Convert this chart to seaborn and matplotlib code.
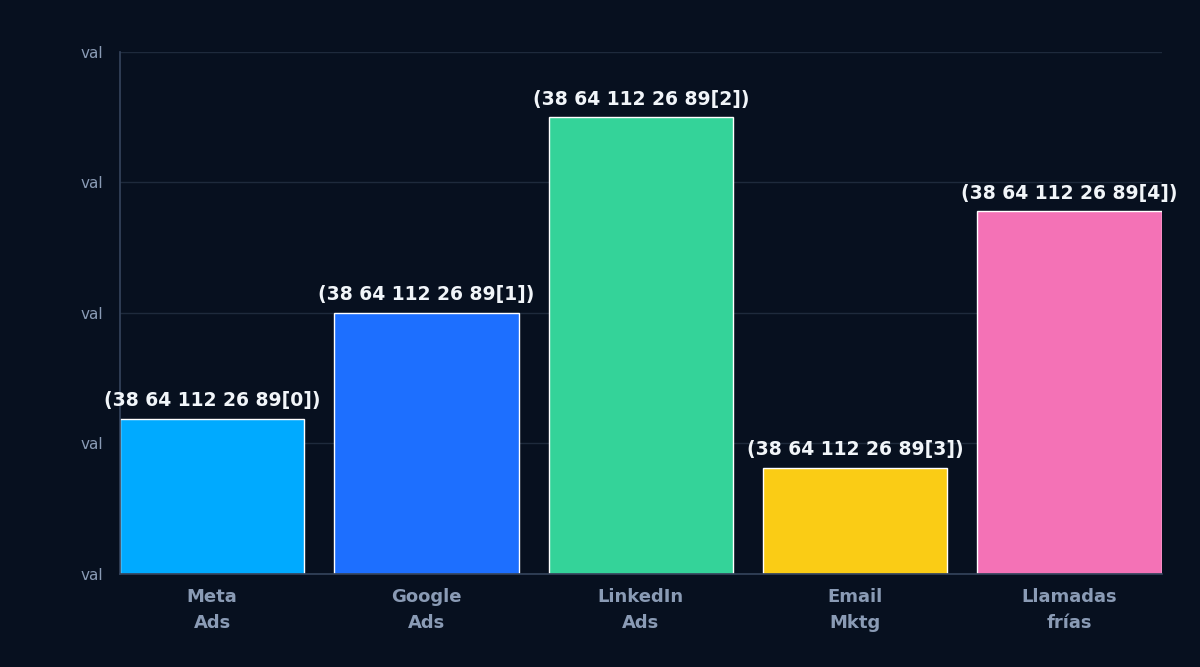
import matplotlib
matplotlib.use("Agg")
import matplotlib.pyplot as plt
import seaborn as sns
import pandas as pd

categories = ["Meta\nAds", "Google\nAds", "LinkedIn\nAds", "Email\nMktg", "Llamadas\nfrías"]
values = [38, 64, 112, 26, 89]
colors = ["#00AAFF", "#1D6FFF", "#34D399", "#FACC15", "#F472B6"]
bar_labels = [f"(38 64 112 26 89[{i}])" for i in range(5)]
yticks = [0, 32, 64, 96, 128]
ytick_labels = ["val"] * 5

bg = "#07101F"
sns.set_theme(style="dark")
plt.rcParams['font.family'] = ['DejaVu Sans']

fig = plt.figure(figsize=(12, 6.67), dpi=100, facecolor=bg)
ax = fig.add_axes([0.10, 0.14, 0.868, 0.782])
ax.set_facecolor(bg)

df = pd.DataFrame({"cat": categories, "val": values})
sns.barplot(data=df, x="cat", y="val", hue="cat", palette=colors, width=0.86,
            legend=False, ax=ax, saturation=1)
ax.set_xlim(-0.43, 4.43)
ax.set_ylim(0, 128)
ax.set_yticks(yticks)
ax.set_yticklabels(ytick_labels, color="#8A9BB5", fontsize=11)
ax.tick_params(axis='y', length=0, pad=12)
ax.tick_params(axis='x', length=0, pad=10)
for lbl in ax.get_xticklabels():
    lbl.set_color("#8A9BB5"); lbl.set_fontsize(13); lbl.set_fontweight("bold")
    lbl.set_linespacing(1.6)
ax.grid(axis='y', color="#1E2A3C", linewidth=1)
ax.grid(axis='x', visible=False)
ax.set_axisbelow(True)
ax.set_xlabel(""); ax.set_ylabel("")
for s in ["top", "right"]:
    ax.spines[s].set_visible(False)
ax.spines["left"].set_color("#33425A")
ax.spines["bottom"].set_color("#33425A")

for i, (v, t) in enumerate(zip(values, bar_labels)):
    ax.annotate(t, (i, v), xytext=(0, 6), textcoords="offset points",
                ha="center", va="bottom", color="#F1F5F9", fontsize=13.5, fontweight="bold")

fig.savefig("out.png", dpi=100, facecolor=bg)
